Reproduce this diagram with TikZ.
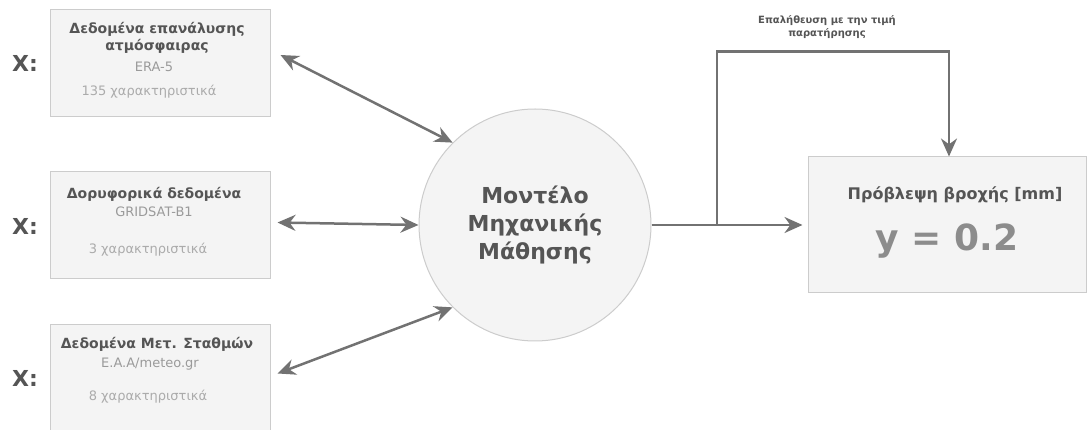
\documentclass[tikz,border=0pt]{standalone}
\usepackage{fontspec}
\setmainfont{DejaVu Sans}
\usetikzlibrary{calc}
\usetikzlibrary{arrows.meta}
\definecolor{linegray}{HTML}{727272}
\definecolor{boxedge}{HTML}{CCCCCC}
\definecolor{boxfill}{HTML}{F4F4F4}
\definecolor{headgray}{HTML}{555555}
\definecolor{subgray}{HTML}{9A9A9A}
\definecolor{featgray}{HTML}{ABABAB}
\definecolor{valgray}{HTML}{8C8C8C}
\tikzset{
    srcbox/.style = {
        draw=boxedge,
        fill=boxfill,
        line width=1pt,
        minimum width=220pt,
        minimum height=107pt,
        inner sep=0pt,
    },
    mlcircle/.style = {
        circle,
        draw=boxedge,
        fill=boxfill,
        line width=1pt,
        minimum size=232pt,
    },
    srctitle/.style = {
        font=\bfseries\fontsize{14}{17}\selectfont,
        text=headgray,
        align=center,
    },
    srcname/.style = {
        font=\fontsize{13}{14}\selectfont,
        text=subgray,
    },
    featcount/.style = {
        font=\fontsize{13}{14}\selectfont,
        text=featgray,
    },
    xmark/.style = {
        font=\bfseries\fontsize{22}{24}\selectfont,
        text=headgray,
    },
    link/.style = {
        line width=2.5pt,
        linegray,
        {Stealth[length=18pt,width=16pt]}-{Stealth[length=18pt,width=16pt]},
    },
    flow/.style = {
        line width=2.5pt,
        linegray,
        -{Stealth[length=18pt,width=16pt]},
    }
}

\begin{document}
\begin{tikzpicture}[x=1pt, y=-1pt]
  \useasboundingbox (0,0) rectangle (1088,430);

  % Input boxes
  \node[srcbox] (era) at (160, 63) {};
  \node[srcbox] (gridsat) at (160, 225.5) {};
  \node[srcbox] (meteo) at (160, 378.5) {};

  \node[xmark] (xera) at (25, 63) {X:};
  \node[xmark] (xgridsat) at (25, 226) {X:};
  \node[xmark] (xmeteo) at (25, 378) {X:};

  \node[srctitle] (eratitle) at ($(era.north)+(-3, 29)$) {Δεδομένα επανάλυσης\\ατμόσφαιρας};
  \node[srcname] (eraname) at ($(era.north)+(-6, 58)$) {ERA-5};
  \node[featcount] (erafeat) at ($(era.north)+(-11, 83)$) {135 χαρακτηριστικά};

  \node[srctitle] (gridsattitle) at ($(gridsat.north)+(-6, 23)$) {Δορυφορικά δεδομένα};
  \node[srcname] (gridsatname) at ($(gridsat.north)+(-6, 40)$) {GRIDSAT-B1};
  \node[featcount] (gridsatfeat) at ($(gridsat.north)+(-12, 78)$) {3 χαρακτηριστικά};

  \node[srctitle] (meteotitle) at ($(meteo.north)+(-3, 20)$) {Δεδομένα Μετ. Σταθμών};
  \node[srcname] (meteoname) at ($(meteo.north)+(-10, 40)$) {E.A.A/meteo.gr};
  \node[featcount] (meteofeat) at ($(meteo.north)+(-12, 72)$) {8 χαρακτηριστικά};

  % Model and prediction
  \node[mlcircle, font=\bfseries\fontsize{22}{28}\selectfont, text=headgray, align=center] (model) at (535, 225) {Μοντέλο\\Μηχανικής\\Μάθησης};

  \node[srcbox, minimum width=278pt, minimum height=136pt] (pred) at (947, 225) {};
  \node[font=\bfseries\fontsize{16}{18}\selectfont, text=headgray] (predtitle) at ($(pred.north)+(8, 38)$) {Πρόβλεψη βροχής [mm]};
  \node[font=\bfseries\fontsize{36}{40}\selectfont, text=valgray] (predval) at ($(pred.north)+(0, 85)$) {y = 0.2};

  \draw[link] ([xshift=10pt, yshift=8pt]era.east) -- (model.135);
  \draw[link] ([xshift=7pt, yshift=3pt]gridsat.east) -- (model.west);
  \draw[link] ([xshift=7pt, yshift=5pt]meteo.east) -- (model.225);

  \coordinate (branch) at (717, 225);
  \draw[flow] (model.east) -- ([xshift=-5pt]pred.west);
  \draw[flow] (branch) |- ($(pred.north)+(2, -105)$) -- ($(pred.north)+(2, 0)$);
  \node[font=\bfseries\fontsize{10}{13}\selectfont, text=headgray, align=center] (checklabel) at (827, 27) {Επαλήθευση με την τιμή\\παρατήρησης};

\end{tikzpicture}
\end{document}
